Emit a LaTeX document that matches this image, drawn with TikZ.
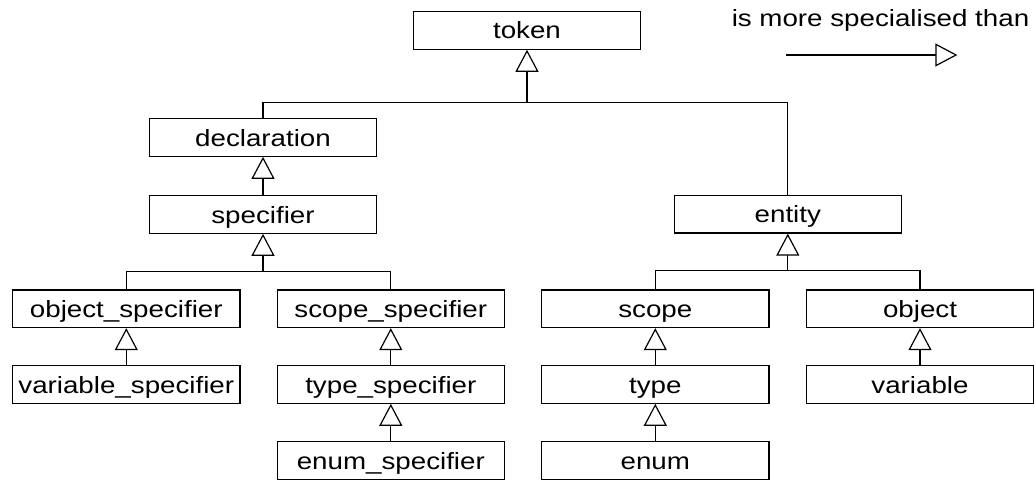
\documentclass[tikz,border=0pt]{standalone}
\usepackage{fontspec}
\setmainfont{Liberation Sans}[FakeStretch=1.18]
\usetikzlibrary{arrows.meta}
\begin{document}
\begin{tikzpicture}[x=1pt,y=-1pt,
  line width=1.2pt,
  cls/.style={draw, minimum width=227.3pt, minimum height=37.5pt, inner sep=0pt,
    text height=17pt, text depth=0pt, font=\fontsize{23.5}{28}\selectfont},
  gen/.style={-{Triangle[open, length=22pt, width=23pt, fill=white]}}]
\useasboundingbox (0,0) rectangle (1035,479);
% nodes
\node[cls, minimum height=38pt] (token) at (527,30.2) {token};
\node[cls] (decl) at (263,137.5) {declaration};
\node[cls] (spec) at (263,214.5) {specifier};
\node[cls] (entity) at (787.8,214.3) {entity};
\node[cls] (objspec) at (126.3,308.8) {object\_specifier};
\node[cls] (scopespec) at (390.8,308.8) {scope\_specifier};
\node[cls] (varspec) at (126.3,384.5) {variable\_specifier};
\node[cls] (typespec) at (390.8,384.5) {type\_specifier};
\node[cls] (enumspec) at (390.8,460.5) {enum\_specifier};
\node[cls] (scope) at (655.3,308.8) {scope};
\node[cls] (object) at (920,308.8) {object};
\node[cls] (type) at (655.3,384.5) {type};
\node[cls] (variable) at (920,384.5) {variable};
\node[cls] (enum) at (655.3,460.5) {enum};
% junctions
\coordinate (j0) at (527,102.8);
\coordinate (j1) at (263,271.3);
\coordinate (j2) at (787.8,270.8);
% connectors
\draw (decl.north) |- (j0) -| (entity.north);
\draw[gen] (j0) -- (token.south);
\draw[gen] (spec.north) -- (decl.south);
\draw (objspec.north) |- (j1) -| (scopespec.north);
\draw[gen] (j1) -- (spec.south);
\draw[gen] (varspec.north) -- (objspec.south);
\draw[gen] (typespec.north) -- (scopespec.south);
\draw[gen] (enumspec.north) -- (typespec.south);
\draw (scope.north) |- (j2) -| (object.north);
\draw[gen] (j2) -- (entity.south);
\draw[gen] (type.north) -- (scope.south);
\draw[gen] (enum.north) -- (type.south);
\draw[gen] (variable.north) -- (object.south);
% legend
\node[anchor=base, inner sep=0pt, font=\fontsize{23.5}{28}\selectfont] (legend) at (880.5,26.7) {is more specialised than};
\coordinate (la) at (786,55);
\coordinate (lb) at (957.3,55);
\draw[gen] (la) -- (lb);
\end{tikzpicture}
\end{document}
